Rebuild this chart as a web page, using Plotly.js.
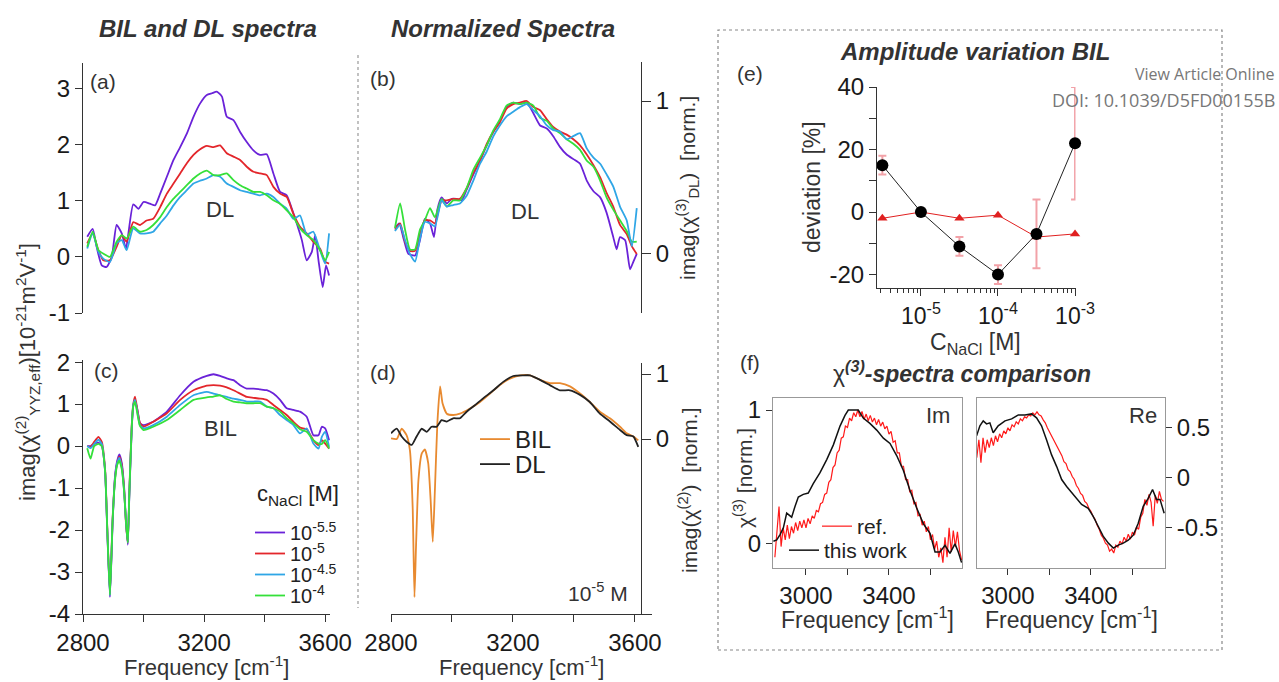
<!DOCTYPE html>
<html><head><meta charset="utf-8">
<script src="https://cdn.plot.ly/plotly-3.0.1.min.js"></script>
<style>html,body{margin:0;padding:0;background:#fff;}#plot{width:1279px;height:682px;}</style>
</head><body><div id="plot"></div>
<script>
// ---------- DATA ----------
// (a) DL spectra [1e-21 m^2/V]
const a_freq = [2814,2832,2851,2867,2889,2911,2928,2944,2966,2988,3010,3032,3055,3077,3099,3121,3143,3165,3187,3209,3231,3253,3275,3297,3319,3341,3363,3385,3407,3429,3451,3473,3495,3517,3539,3561,3583,3600,3613];
const a_red   = [0.24,0.42,0.12,-0.06,-0.06,0.18,0.39,0.27,0.62,0.57,0.65,0.68,0.89,1.13,1.31,1.49,1.67,1.82,1.92,1.98,1.96,1.99,1.85,1.79,1.73,1.61,1.52,1.49,1.46,1.25,1.13,1.07,0.77,0.54,0.42,0.27,0.15,-0.09,-0.12];
const a_blue  = [0.15,0.42,0.09,-0.03,-0.09,0.24,0.30,0.12,0.51,0.42,0.42,0.45,0.60,0.74,0.92,1.07,1.19,1.31,1.36,1.40,1.46,1.43,1.31,1.25,1.19,1.16,1.13,1.10,1.13,1.07,0.95,0.86,0.68,0.74,0.40,0.45,0.12,-0.12,0.42];
const a_green = [0.18,0.45,0.12,0.06,0,0.27,0.39,0.33,0.54,0.45,0.48,0.57,0.71,0.89,1.04,1.16,1.28,1.40,1.49,1.54,1.46,1.46,1.49,1.37,1.28,1.22,1.16,1.16,1.10,1.01,0.95,0.83,0.71,0.51,0.39,0.30,0.12,-0.06,0.09];
const a_freq_purple = [2814,2832,2845,2862,2878,2895,2911,2928,2942,2950,2966,2983,3000,3021,3038,3055,3077,3099,3121,3143,3165,3187,3209,3226,3242,3259,3275,3297,3319,3341,3363,3385,3407,3429,3451,3473,3490,3506,3523,3539,3556,3567,3578,3592,3603,3613];
const a_purple = [0.36,0.5,0.18,-0.15,-0.18,0,0.57,0.42,0.15,0.42,0.94,0.86,0.98,0.95,0.92,1.13,1.43,1.73,1.96,2.2,2.5,2.74,2.89,2.92,2.95,2.86,2.5,2.44,2.23,2.05,1.9,1.82,1.83,1.49,1.16,1.1,0.86,0.6,0.3,-0.06,0.09,0.39,-0.06,-0.54,-0.15,-0.33];

// (b) normalized DL spectra
const b_freq = [2813,2830,2846,2862,2879,2895,2911,2928,2944,2966,2983,3004,3026,3048,3070,3092,3114,3136,3157,3179,3201,3223,3245,3267,3289,3311,3332,3354,3376,3398,3420,3442,3464,3486,3507,3529,3551,3573,3590,3606];
const b_red   = [0.16,0.20,0.08,0.02,0.02,0.13,0.22,0.22,0.20,0.35,0.35,0.36,0.36,0.43,0.53,0.61,0.72,0.80,0.86,0.95,0.98,0.99,1.0,0.96,0.94,0.88,0.83,0.80,0.78,0.75,0.71,0.65,0.58,0.50,0.40,0.31,0.19,0.13,0.05,0.0];
const b_green = [0.17,0.33,0.16,0.03,0.03,0.16,0.22,0.30,0.24,0.36,0.31,0.35,0.35,0.43,0.55,0.63,0.71,0.81,0.88,0.97,0.99,0.98,0.99,0.97,0.89,0.87,0.82,0.79,0.75,0.72,0.68,0.61,0.57,0.48,0.37,0.29,0.22,0.15,0.08,0.08];
const b_blue  = [0.15,0.19,0.09,0.0,-0.05,0.10,0.21,0.20,0.18,0.35,0.31,0.32,0.33,0.38,0.48,0.59,0.67,0.77,0.84,0.90,0.93,0.96,0.98,0.94,0.90,0.84,0.81,0.80,0.75,0.77,0.79,0.69,0.63,0.59,0.52,0.44,0.31,0.22,0.05,0.30];
const b_freq_purple = [2813,2827,2840,2857,2879,2895,2911,2928,2941,2952,2966,2983,2999,3015,3032,3048,3070,3092,3114,3136,3157,3179,3201,3223,3245,3267,3289,3311,3332,3354,3376,3398,3420,3442,3464,3486,3507,3529,3540,3551,3568,3584,3595,3606];
const b_purple = [0.17,0.20,0.11,0.0,-0.01,0.09,0.23,0.20,0.11,0.29,0.37,0.33,0.36,0.36,0.35,0.42,0.52,0.61,0.71,0.80,0.87,0.96,0.99,0.98,0.99,0.92,0.84,0.82,0.77,0.70,0.65,0.62,0.59,0.48,0.41,0.37,0.27,0.11,0.03,0.11,0.09,-0.10,-0.05,0];

// (c) BIL spectra [1e-21 m^2/V]
const c_freq = [2814,2825,2837,2851,2862,2873,2880,2889,2898,2906,2913,2920,2928,2936,2942,2948,2953,2961,2966,2972,2980,2988,3000,3032,3077,3121,3165,3209,3231,3253,3275,3297,3319,3341,3363,3385,3407,3429,3451,3473,3495,3517,3539,3561,3578,3589,3600,3613];
const c_purple = [0,0,0.05,0.08,0.0,-0.6,-2.0,-3.6,-1.8,-0.7,-0.35,-0.2,-0.4,-1.0,-1.8,-2.35,-1.2,0.4,0.95,1.1,0.85,0.55,0.50,0.58,0.82,1.21,1.53,1.67,1.71,1.67,1.61,1.57,1.45,1.37,1.37,1.35,1.33,1.25,1.10,0.90,0.86,0.82,0.70,0.26,0.26,0.46,0.42,0.14];
const c_red    = [0,-0.02,0.1,0.22,0.1,-0.55,-1.9,-3.5,-1.7,-0.75,-0.4,-0.25,-0.45,-1.05,-1.85,-2.3,-1.1,0.5,1.0,1.18,0.85,0.55,0.46,0.58,0.78,1.10,1.33,1.44,1.45,1.44,1.40,1.33,1.25,1.17,1.15,1.13,1.10,0.98,0.86,0.74,0.58,0.44,0.40,0.14,0.02,0.14,0.06,-0.06];
const c_blue   = [0,-0.05,0.05,0.15,0.05,-0.6,-1.95,-3.55,-1.75,-0.75,-0.4,-0.28,-0.5,-1.1,-1.8,-2.3,-1.15,0.45,0.98,1.1,0.8,0.5,0.42,0.50,0.70,0.98,1.21,1.29,1.25,1.21,1.17,1.13,1.10,1.06,1.06,1.06,0.94,0.90,0.74,0.62,0.50,0.30,0.42,0.06,-0.06,0.22,0.34,-0.02];
const c_green  = [-0.05,-0.3,0.0,0.05,0.0,-0.6,-1.95,-3.55,-1.75,-0.8,-0.45,-0.35,-0.55,-1.1,-1.8,-2.3,-1.15,0.45,0.95,1.05,0.75,0.48,0.38,0.46,0.62,0.86,1.10,1.16,1.18,1.21,1.12,1.06,1.04,1.02,1.02,1.02,0.94,0.90,0.82,0.66,0.54,0.40,0.34,0.14,0.06,0.05,0.14,-0.06];
const c_names  = ['10<sup>-5.5</sup>','10<sup>-5</sup>','10<sup>-4.5</sup>','10<sup>-4</sup>'];

// (d) normalized BIL vs DL at 1e-5 M
const d_freq_bil = [2800,2819,2835,2851,2862,2871,2877,2882,2890,2901,2911,2922,2930,2937,2944,2952,2961,2969,2983,3004,3026,3059,3092,3125,3157,3190,3223,3256,3289,3321,3354,3387,3420,3452,3485,3518,3551,3573,3595,3611];
const d_bil = [0.01,0,0.16,0.06,-0.17,-1.04,-2.43,-1.66,-0.63,-0.22,-0.16,-0.37,-0.94,-1.58,-0.78,0.24,0.81,0.55,0.39,0.37,0.39,0.47,0.57,0.70,0.83,0.93,0.98,0.98,0.91,0.86,0.86,0.81,0.70,0.57,0.42,0.32,0.19,0.09,0.04,-0.02];
const d_freq_dl = [2800,2819,2835,2851,2868,2884,2901,2917,2933,2950,2966,2983,3004,3026,3048,3075,3103,3136,3168,3201,3234,3256,3289,3321,3354,3387,3420,3452,3485,3518,3551,3573,3595,3611];
const d_dl = [0.09,0.16,0.04,-0.04,-0.09,0.04,0.16,0.11,0.19,0.19,0.29,0.27,0.32,0.32,0.42,0.52,0.63,0.75,0.88,0.97,0.98,0.98,0.91,0.83,0.75,0.75,0.68,0.57,0.39,0.27,0.14,0.06,0.04,-0.12];

// (e) amplitude variation
const e_conc  = [3.16e-6, 1e-5, 3.16e-5, 1e-4, 3.16e-4, 1e-3];
const e_black = [15, 0, -11, -20, -7, 22];
const e_black_err = [3, 0, 3, 3, 11, 18];
const e_red   = [-2, 0, -2, -1, -8, -7];

// (f) chi(3) spectra comparison
const f_ref_freq = [2850,2860,2870,2880,2890,2900,2910,2920,2930,2940,2950,2960,2970,2980,2990,3000,3010,3020,3030,3040,3050,3060,3070,3080,3090,3100,3110,3120,3130,3140,3150,3160,3170,3180,3190,3200,3210,3220,3230,3240,3250,3260,3270,3280,3290,3300,3310,3320,3330,3340,3350,3360,3370,3380,3390,3400,3410,3420,3430,3440,3450,3460,3470,3480,3490,3500,3510,3520,3530,3540,3550,3560,3570,3580,3590,3600,3610,3620,3630,3640,3650,3660,3670,3680,3690,3700,3710,3720,3730,3740,3750];
const f_im_ref = [-0.10,0.08,0.28,-0.02,0.12,0.03,0.14,0.04,0.13,0.08,
  0.16,0.10,0.17,0.12,0.18,0.12,0.19,0.15,0.21,0.19,
  0.25,0.24,0.30,0.31,0.37,0.38,0.46,0.48,0.57,0.59,
  0.68,0.70,0.79,0.80,0.88,0.87,0.94,0.92,0.98,0.95,
  1.0,0.95,0.99,0.93,0.97,0.92,0.96,0.91,0.94,0.89,
  0.93,0.88,0.91,0.86,0.88,0.82,0.84,0.76,0.77,0.68,
  0.68,0.58,0.58,0.48,0.48,0.39,0.40,0.30,0.31,0.21,
  0.22,0.14,0.17,0.09,0.13,0.03,0.07,-0.04,0.02,-0.10,
  -0.03,-0.14,0.05,-0.10,0.12,-0.06,0.10,-0.02,0.09,-0.05,-0.12];
const f_re_ref = [0.20,0.38,0.15,0.40,0.25,0.38,0.30,0.40,0.32,0.42,
  0.36,0.44,0.40,0.47,0.44,0.50,0.47,0.53,0.51,0.56,
  0.54,0.59,0.57,0.61,0.60,0.63,0.62,0.65,0.63,0.66,
  0.63,0.62,0.58,0.55,0.50,0.46,0.42,0.38,0.33,0.30,
  0.25,0.22,0.16,0.14,0.08,0.06,0.01,-0.02,-0.08,-0.11,
  -0.16,-0.18,-0.24,-0.26,-0.31,-0.34,-0.39,-0.42,-0.48,-0.52,
  -0.58,-0.61,-0.66,-0.68,-0.74,-0.72,-0.76,-0.68,-0.70,-0.64,
  -0.67,-0.60,-0.64,-0.57,-0.62,-0.55,-0.58,-0.50,-0.52,-0.40,
  -0.36,-0.22,-0.28,-0.17,-0.25,-0.49,-0.18,-0.26,-0.14,-0.22,-0.24];
const f_im_work_freq = [2843,2859,2875,2891,2907,2931,2947,2963,2987,3011,3035,3067,3100,3132,3164,3188,3204,3228,3252,3276,3308,3341,3373,3405,3437,3469,3501,3533,3566,3598,3622,3646,3670,3694,3718,3734,3750];
const f_im_work = [0.02,0.03,0.07,0.12,0.23,0.20,0.28,0.35,0.37,0.38,0.45,0.53,0.63,0.74,0.88,0.96,1.0,1.0,1.0,0.94,0.90,0.85,0.79,0.75,0.66,0.55,0.40,0.27,0.15,0.08,-0.06,-0.06,-0.01,-0.07,0.0,-0.06,-0.14];
const f_re_work_freq = [2849,2865,2881,2897,2913,2929,2953,2986,3018,3050,3082,3114,3138,3162,3186,3210,3235,3259,3283,3307,3331,3355,3387,3411,3435,3459,3484,3508,3532,3556,3580,3604,3628,3652,3676,3697,3716,3733,3753];
const f_re_work = [0.42,0.52,0.57,0.54,0.55,0.45,0.52,0.57,0.59,0.63,0.63,0.64,0.60,0.52,0.38,0.23,0.11,-0.02,-0.09,-0.15,-0.22,-0.27,-0.31,-0.39,-0.49,-0.59,-0.66,-0.71,-0.68,-0.66,-0.63,-0.58,-0.46,-0.29,-0.21,-0.12,-0.22,-0.22,-0.36];

// ---------- STYLE ----------
const COL = {purple:'#6a22d8', red:'#e3262b', blue:'#2fa6e6', green:'#35e03a', orange:'#e88a30', black:'#222222'};
const W = 1279, H = 682;
const px = x => x / W;
const py = y => 1 - y / H;
const FONT = 'Liberation Sans, Arial, sans-serif';
const TICK = 24;

function line(x, y, color, xa, ya, extra) {
  return Object.assign({type:'scatter', mode:'lines', x:x, y:y, xaxis:xa, yaxis:ya,
    line:{color:color, width:1.8, shape:'spline', smoothing:0.5}, showlegend:false, hoverinfo:'skip'}, extra || {});
}

const traces = [
  // (a)
  line(a_freq_purple, a_purple, COL.purple, 'x', 'y'),
  line(a_freq, a_red, COL.red, 'x', 'y'),
  line(a_freq, a_blue, COL.blue, 'x', 'y'),
  line(a_freq, a_green, COL.green, 'x', 'y'),
  // (b)
  line(b_freq_purple, b_purple, COL.purple, 'x2', 'y2'),
  line(b_freq, b_red, COL.red, 'x2', 'y2'),
  line(b_freq, b_green, COL.green, 'x2', 'y2'),
  line(b_freq, b_blue, COL.blue, 'x2', 'y2'),
  // (c) with legend entries
  line(c_freq, c_purple, COL.purple, 'x3', 'y3', {name:c_names[0], showlegend:true, legend:'legend'}),
  line(c_freq, c_red, COL.red, 'x3', 'y3', {name:c_names[1], showlegend:true, legend:'legend5'}),
  line(c_freq, c_blue, COL.blue, 'x3', 'y3', {name:c_names[2], showlegend:true, legend:'legend6'}),
  line(c_freq, c_green, COL.green, 'x3', 'y3', {name:c_names[3], showlegend:true, legend:'legend7'}),
  // (d)
  line(d_freq_bil, d_bil, COL.orange, 'x4', 'y4', {name:'BIL', showlegend:true, legend:'legend2'}),
  line(d_freq_dl, d_dl, COL.black, 'x4', 'y4', {name:'DL', showlegend:true, legend:'legend8'}),
  // (e)
  {type:'scatter', mode:'lines+markers', x:e_conc, y:e_red, xaxis:'x5', yaxis:'y5',
   line:{color:'#e02020', width:1}, marker:{symbol:'triangle-up', size:9, color:'#e02020'},
   showlegend:false, cliponaxis:false, hoverinfo:'skip'},
  {type:'scatter', mode:'lines+markers', x:e_conc, y:e_black, xaxis:'x5', yaxis:'y5',
   line:{color:'#222', width:1}, marker:{symbol:'circle', size:12, color:'#000'},
   error_y:{type:'data', array:e_black_err, visible:true, color:'#f2a2a8', thickness:2, width:4},
   showlegend:false, cliponaxis:false, hoverinfo:'skip'},
  // (f) Im
  {type:'scatter', mode:'lines', x:f_ref_freq, y:f_im_ref, xaxis:'x6', yaxis:'y6',
   line:{color:'#ff1a1a', width:1.2}, name:'ref.', showlegend:true, legend:'legend3', hoverinfo:'skip'},
  {type:'scatter', mode:'lines', x:f_im_work_freq, y:f_im_work, xaxis:'x6', yaxis:'y6',
   line:{color:'#111', width:1.5}, name:'this work', showlegend:true, legend:'legend4', hoverinfo:'skip'},
  // (f) Re
  {type:'scatter', mode:'lines', x:f_ref_freq, y:f_re_ref, xaxis:'x7', yaxis:'y7',
   line:{color:'#ff1a1a', width:1.2}, showlegend:false, hoverinfo:'skip'},
  {type:'scatter', mode:'lines', x:f_re_work_freq, y:f_re_work, xaxis:'x7', yaxis:'y7',
   line:{color:'#111', width:1.5}, showlegend:false, hoverinfo:'skip'}
];

function ax(extra) {
  return Object.assign({showgrid:false, zeroline:false, showline:true, linecolor:'#333', linewidth:1,
    ticks:'outside', ticklen:7, tickwidth:1, tickcolor:'#333', tickfont:{size:TICK, color:'#1a1a1a', family:FONT},
    fixedrange:true}, extra);
}
const freqTicks = {tickmode:'array', tickvals:[2800,3000,3200,3400,3600], ticktext:['2800','','3200','','3600']};
const fTicks = {tickmode:'array', tickvals:[3000,3200,3400,3600], ticktext:['3000','','3400','']};

const minorVals = [];
for (let d = -6; d <= -4; d++) for (let m = 2; m <= 9; m++) minorVals.push(m * Math.pow(10, d));

function leg(x, yTop, size) {
  return {x:px(x), y:py(yTop), xanchor:'left', yanchor:'top', bgcolor:'rgba(0,0,0,0)',
    font:{size:size, color:'#222', family:FONT}, itemwidth:30, borderwidth:0};
}

const layout = {
  width: W, height: H, autosize:false,
  margin:{l:0, r:0, t:0, b:0, pad:0},
  paper_bgcolor:'#fff', plot_bgcolor:'rgba(0,0,0,0)',
  font:{family:FONT, color:'#333', size:20},
  // (a)
  xaxis: {visible:false, domain:[px(83), px(330)], range:[2800, 3616], anchor:'y', fixedrange:true},
  yaxis: ax({domain:[py(313), py(63)], range:[-1, 3.46], anchor:'x', tickmode:'array',
    tickvals:[-1,0,1,2,3], ticktext:['-1','0','1','2','3']}),
  // (b)
  xaxis2: {visible:false, domain:[px(391), px(652)], range:[2800, 3656], anchor:'y2', fixedrange:true},
  yaxis2: ax({domain:[py(313), py(62)], range:[-0.386, 1.255], anchor:'free', position:px(641), side:'right',
    tickmode:'array', tickvals:[0,1], ticktext:['0','1'], ticklen:9}),
  // (c)
  xaxis3: ax(Object.assign({domain:[px(83), px(330)], range:[2800, 3616], anchor:'y3'}, freqTicks)),
  yaxis3: ax({domain:[py(614), py(360)], range:[-4, 2.05], anchor:'x3', tickmode:'array',
    tickvals:[-4,-3,-2,-1,0,1,2], ticktext:['-4','-3','-2','-1','0','1','2']}),
  // (d)
  xaxis4: ax(Object.assign({domain:[px(391), px(652)], range:[2800, 3656], anchor:'y4'}, freqTicks)),
  yaxis4: ax({domain:[py(614), py(363)], range:[-2.69, 1.17], anchor:'free', position:px(641), side:'right',
    tickmode:'array', tickvals:[0,1], ticktext:['0','1'], ticklen:9}),
  // (e)
  xaxis5: ax({type:'log', domain:[px(877), px(1075.5)], range:[-5.57, -2.994], anchor:'y5', tickmode:'array',
    tickvals:[1e-5,1e-4,1e-3], ticktext:['10<sup>-5</sup>','10<sup>-4</sup>','10<sup>-3</sup>'],
    tickfont:{size:23, color:'#1a1a1a', family:FONT},
    minor:{ticks:'outside', ticklen:4, tickcolor:'#333', tickmode:'array', tickvals:minorVals}}),
  yaxis5: ax({domain:[py(288), py(87)], range:[-24.3, 40], anchor:'x5', tickmode:'array',
    tickvals:[-20,-10,0,10,20,30,40], ticktext:['-20','','0','','20','','40']}),
  // (f) Im
  xaxis6: ax(Object.assign({domain:[px(773), px(962)], range:[2841, 3752], anchor:'y6', mirror:true,
    linecolor:'#999', ticklen:6}, fTicks)),
  yaxis6: ax({domain:[py(568), py(398)], range:[-0.18, 1.09], anchor:'x6', mirror:true, linecolor:'#999',
    ticklen:6, tickmode:'array', tickvals:[0,1], ticktext:['0','1']}),
  // (f) Re
  xaxis7: ax(Object.assign({domain:[px(977), px(1165)], range:[2851, 3757], anchor:'y7', mirror:true,
    linecolor:'#999', ticklen:6}, fTicks)),
  yaxis7: ax({domain:[py(568), py(398)], range:[-0.91, 0.80], anchor:'x7', side:'right', mirror:true,
    linecolor:'#999', ticklen:6, tickmode:'array', tickvals:[-0.5,0,0.5], ticktext:['-0.5','0','0.5']}),

  legend:  leg(250, 513, 20),
  legend5: leg(250, 534, 20),
  legend6: leg(250, 555, 20),
  legend7: leg(250, 576, 20),
  legend2: leg(475, 417, 24),
  legend8: leg(475, 442, 24),
  legend3: leg(817, 506, 21),
  legend4: leg(784, 530, 21),

  shapes: [
    {type:'line', xref:'paper', yref:'paper', x0:px(358), x1:px(358), y0:py(55), y1:py(608),
     line:{color:'#999', width:1.2, dash:'dot'}},
    {type:'rect', xref:'paper', yref:'paper', x0:px(718), x1:px(1222), y0:py(650), y1:py(30),
     line:{color:'#888', width:1.2, dash:'dot'}}
  ],
  annotations: []
};

function ann(x, y, text, size, opts) {
  layout.annotations.push(Object.assign({xref:'paper', yref:'paper', x:px(x), y:py(y), text:text,
    showarrow:false, xanchor:'center', yanchor:'middle', font:{size:size, color:'#333', family:FONT}}, opts || {}));
}
ann(208, 29, '<b><i>BIL and DL spectra</i></b>', 24);
ann(503, 29, '<b><i>Normalized Spectra</i></b>', 24);
ann(975, 51, '<b><i>Amplitude variation BIL</i></b>', 24);
ann(962, 372, 'χ<sup><b><i>(3)</i></b></sup><b><i>-spectra comparison</i></b>', 23);
ann(103, 81, '(a)', 21); ann(383, 78, '(b)', 21); ann(106, 370, '(c)', 21);
ann(383, 372, '(d)', 21); ann(750, 73, '(e)', 21); ann(750, 362, '(f)', 21);
ann(220, 210, 'DL', 22); ann(525, 212, 'DL', 22); ann(220, 428, 'BIL', 22);
ann(598, 592, '10<sup>-5</sup> M', 21);
ann(938, 415, 'Im', 22); ann(1143, 415, 'Re', 22);
ann(298, 495, 'c<sub>NaCl</sub> [M]', 22, {font:{size:22, color:'#222', family:FONT}});
ann(1277, 74, 'View Article Online', 16, {xanchor:'right', font:{size:16, color:'#777', family:'Open Sans, sans-serif'}});
ann(1277, 100, 'DOI: 10.1039/D5FD00155B', 18, {xanchor:'right', font:{size:18, color:'#777', family:'Open Sans, sans-serif'}});
ann(27, 372, 'imag(χ<sup>(2)</sup><sub>YYZ,eff</sub>)[10<sup>-21</sup>m<sup>2</sup>V<sup>-1</sup>]', 22, {textangle:-90});
ann(688, 188, 'imag(χ<sup>(3)</sup><sub>DL</sub>)  [norm.]', 21, {textangle:-90});
ann(688, 490, 'imag(χ<sup>(2)</sup>)  [norm.]', 21, {textangle:-90});
ann(812, 187, 'deviation [%]', 23, {textangle:-90});
ann(975, 343, 'C<sub>NaCl</sub> [M]', 23);
ann(743, 478, 'χ<sup>(3)</sup> [norm.]', 21, {textangle:-90});
ann(206, 666, 'Frequency [cm<sup>-1</sup>]', 22);
ann(521, 666, 'Frequency [cm<sup>-1</sup>]', 22);
ann(867, 618, 'Frequency [cm<sup>-1</sup>]', 23);
ann(1071, 618, 'Frequency [cm<sup>-1</sup>]', 23);

Plotly.newPlot('plot', traces, layout, {displayModeBar:false, staticPlot:true});
</script>
</body></html>
